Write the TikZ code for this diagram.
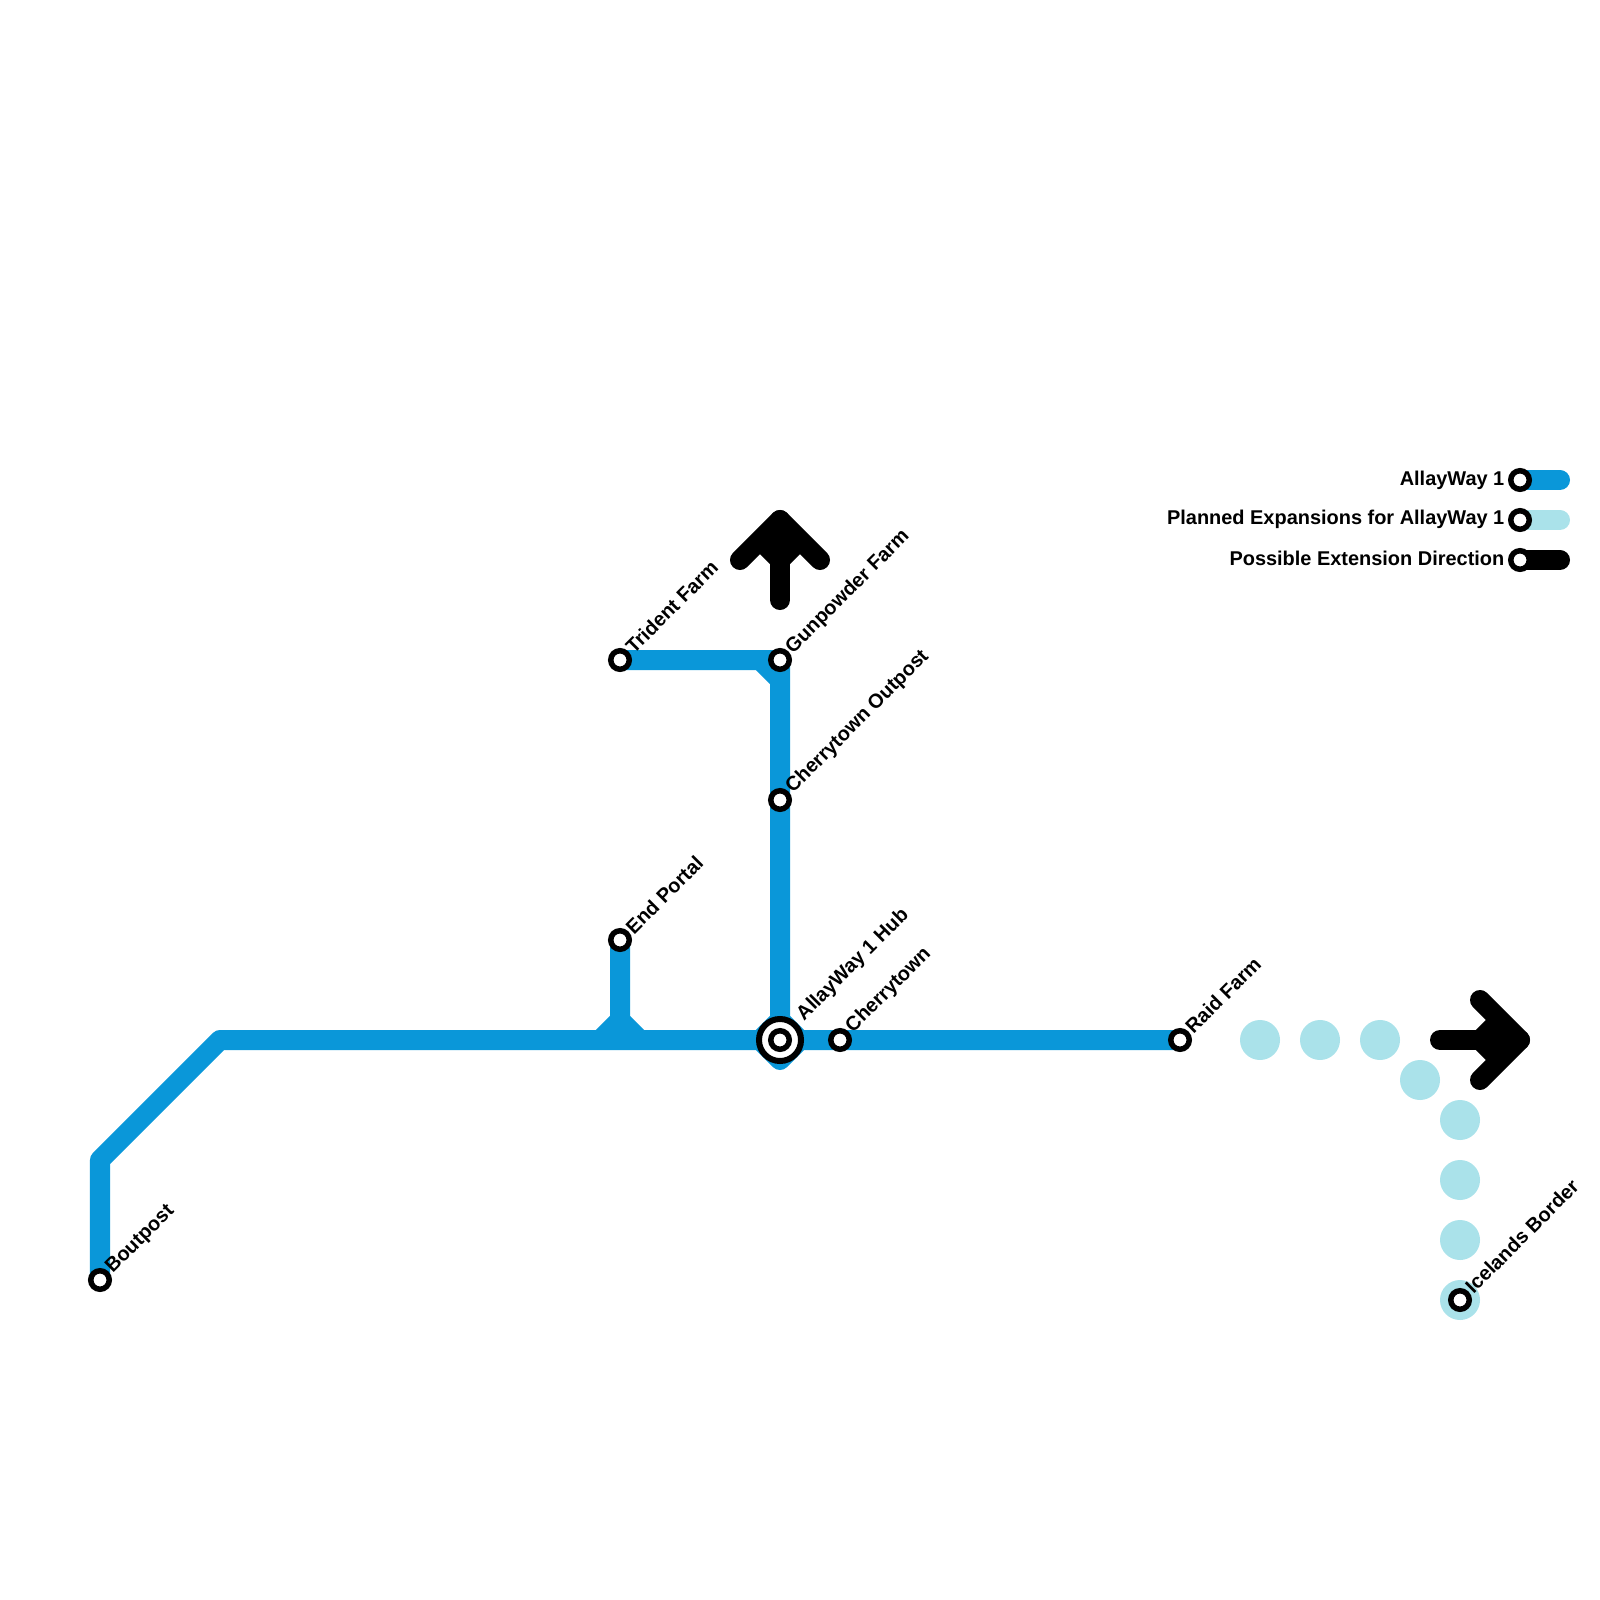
\documentclass[tikz,border=0pt]{standalone}
\usepackage{fontspec}
\setmainfont{Liberation Sans}
\usetikzlibrary{backgrounds}
\definecolor{linemain}{HTML}{0A97D9}
\definecolor{lineplan}{HTML}{AAE2EA}
\begin{document}
\begin{tikzpicture}[
		x=0.01cm,
		y=-0.01cm,
		stn/.style={circle, draw=black, fill=white, line width=0.055cm, minimum size=0.185cm, inner sep=0pt},
		hubring/.style={circle, draw=black, fill=white, line width=0.06cm, minimum size=0.42cm, inner sep=0pt},
		plandot/.style={circle, fill=lineplan, minimum size=0.40cm, inner sep=0pt},
		stnlbl/.style={rotate=45, anchor=west, inner sep=0pt, font=\fontsize{5.67pt}{7pt}\selectfont\bfseries},
		keylbl/.style={anchor=east, inner sep=0pt, font=\fontsize{5.67pt}{7pt}\selectfont\bfseries},
		track/.style={line width=0.2cm, line join=round, line cap=round},
		tracksharp/.style={line width=0.2cm, line join=round},
	]
	\useasboundingbox (0, 0) rectangle (1600, 1600);

	% stations
	\node[stn] (boutpost) at (100, 1280) {};
	\node[stn] (endportal) at (620, 940) {};
	\node[stn] (trident) at (620, 660) {};
	\node[stn] (gunpowder) at (780, 660) {};
	\node[stn] (outpost) at (780, 800) {};
	\node[hubring] (hubouter) at (780, 1040) {};
	\node[stn] (hub) at (780, 1040) {};
	\node[stn] (cherrytown) at (840, 1040) {};
	\node[stn] (raid) at (1180, 1040) {};

	% planned dots
	\node[plandot] (planA) at (1260, 1040) {};
	\node[plandot] (planB) at (1320, 1040) {};
	\node[plandot] (planC) at (1380, 1040) {};
	\node[plandot] (planD) at (1420, 1080) {};
	\node[plandot] (planE) at (1460, 1120) {};
	\node[plandot] (planF) at (1460, 1180) {};
	\node[plandot] (planG) at (1460, 1240) {};
	\node[plandot] (planH) at (1460, 1300) {};
	\node[stn] (iceland) at (1460, 1300) {};

	% station names
	\node[stnlbl] (boutpostlbl) at ([shift={(9,-9)}]boutpost.center) {Boutpost};
	\node[stnlbl] (endportallbl) at ([shift={(8.5,-9.5)}]endportal.center) {End Portal};
	\node[stnlbl] (tridentlbl) at ([shift={(8.5,-10)}]trident.center) {Trident Farm};
	\node[stnlbl] (gunpowderlbl) at ([shift={(9,-9)}]gunpowder.center) {Gunpowder Farm};
	\node[stnlbl] (outpostlbl) at ([shift={(9,-9.5)}]outpost.center) {Cherrytown Outpost};
	\node[stnlbl] (hublbl) at ([shift={(20,-22)}]hub.center) {AllayWay 1 Hub};
	\node[stnlbl] (cherrytownlbl) at ([shift={(9,-10)}]cherrytown.center) {Cherrytown};
	\node[stnlbl] (raidlbl) at ([shift={(8,-10)}]raid.center) {Raid Farm};
	\node[stnlbl] (icelandlbl) at ([shift={(8,-10)}]iceland.center) {Icelands Border};

	% bends
	\coordinate (cornerA) at (100, 1160);
	\coordinate (cornerB) at (220, 1040);
	\coordinate (splitL) at (600, 1040);
	\coordinate (splitR) at (640, 1040);
	\coordinate (splitT) at (620, 1020);
	\coordinate (hubL) at (760, 1040);
	\coordinate (hubR) at (800, 1040);
	\coordinate (hubT) at (780, 1020);
	\coordinate (hubB) at (780, 1060);
	\coordinate (topA) at (760, 660);
	\coordinate (topB) at (780, 680);

	% arrow ends
	\coordinate (upfoot) at (780, 600);
	\coordinate (upmid) at (780, 560);
	\coordinate (uptip) at (780, 520);
	\coordinate (upL) at (740, 560);
	\coordinate (upR) at (820, 560);
	\coordinate (upnL) at (760, 540);
	\coordinate (upnR) at (800, 540);
	\coordinate (rtfoot) at (1440, 1040);
	\coordinate (rtmid) at (1480, 1040);
	\coordinate (rttip) at (1520, 1040);
	\coordinate (rtT) at (1480, 1000);
	\coordinate (rtB) at (1480, 1080);
	\coordinate (rtnT) at (1500, 1020);
	\coordinate (rtnB) at (1500, 1060);

	% key
	\node[stn] (keyA) at (1520, 480) {};
	\node[stn] (keyB) at (1520, 520) {};
	\node[stn] (keyC) at (1520, 560) {};
	\coordinate (keyAend) at (1560, 480);
	\coordinate (keyBend) at (1560, 520);
	\coordinate (keyCend) at (1560, 560);
	\node[keylbl] (keyAlbl) at (1505, 480) {AllayWay 1};
	\node[keylbl] (keyBlbl) at (1505, 519.5) {Planned Expansions for AllayWay 1};
	\node[keylbl] (keyClbl) at (1505, 558) {Possible Extension Direction};

	\begin{scope}[on background layer]
		\draw[track, linemain] (boutpost.center) -- (cornerA) -- (cornerB) -- (hubL) -- (hubB) -- (hubR) -- (raid.center);
		\draw[tracksharp, linemain] (endportal.center) -- (splitT) -- (splitL);
		\draw[tracksharp, linemain] (splitT) -- (splitR);
		\draw[tracksharp, linemain] (trident.center) -- (gunpowder.center) -- (hubT) -- (hubL);
		\draw[tracksharp, linemain] (hubT) -- (hubR);
		\draw[tracksharp, linemain] (topA) -- (topB);

		\draw[track, black] (upfoot) -- (uptip);
		\draw[track, black] (upL) -- (uptip) -- (upR);
		\draw[tracksharp, black] (upnL) -- (upmid) -- (upnR);
		\draw[track, black] (rtfoot) -- (rttip);
		\draw[track, black] (rtT) -- (rttip) -- (rtB);
		\draw[tracksharp, black] (rtnT) -- (rtmid) -- (rtnB);

		\draw[track, linemain] (keyA.center) -- (keyAend);
		\draw[track, lineplan] (keyB.center) -- (keyBend);
		\draw[track, black] (keyC.center) -- (keyCend);
	\end{scope}
\end{tikzpicture}
\end{document}
